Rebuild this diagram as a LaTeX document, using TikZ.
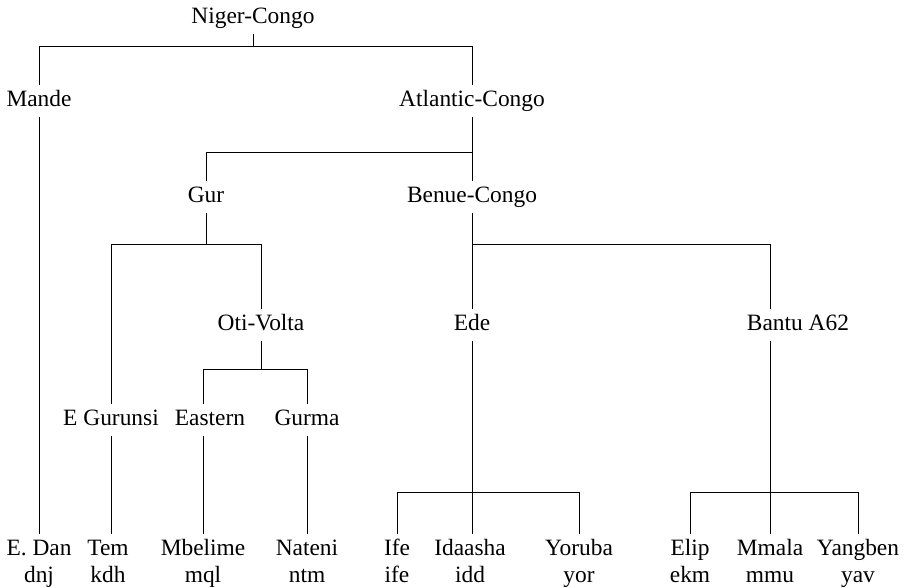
\documentclass[tikz,border=0pt]{standalone}
\usepackage{fontspec}
\setmainfont{Liberation Serif}
\usetikzlibrary{positioning}

\begin{document}
\begin{tikzpicture}[
    x=0.5pt, y=-0.5pt,
    font=\fontsize{11.7}{14}\selectfont,
    line width=0.5pt,
    lang/.style={anchor=base, inner xsep=1pt, inner ysep=2.5pt, text height=8pt, text depth=2.5pt},
    code/.style={inner sep=0pt, text height=8pt, text depth=2.5pt},
    leaf/.style={lang, label={[code]below:#1}}
]
\useasboundingbox (0,0) rectangle (909,588);

% inner nodes
\node[lang] (nc) at (253,24) {Niger-Congo};
\node[lang] (mande) at (39,107) {Mande};
\node[lang] (atl) at (472,107) {Atlantic-Congo};
\node[lang] (gur) at (206,203) {Gur};
\node[lang] (benue) at (472,203) {Benue-Congo};
\node[lang] (oti) at (261,330) {Oti-Volta};
\node[lang] (ede) at (472,330) {Ede};
\node[lang] (bantu) at (798,330) {Bantu A62};
\node[lang] (egur) at (111,425) {E Gurunsi};
\node[lang] (eastern) at (210,425) {Eastern};
\node[lang] (gurma) at (307,425) {Gurma};

% leaves with their codes
\node[leaf=dnj] (edan) at (39,555) {E. Dan};
\node[leaf=kdh] (tem) at (108,555) {Tem};
\node[leaf=mql] (mbelime) at (203,555) {Mbelime};
\node[leaf=ntm] (nateni) at (307,555) {Nateni};
\node[leaf=ife] (ife) at (397,555) {Ife};
\node[leaf=idd] (idaasha) at (470,555) {Idaasha};
\node[leaf=yor] (yoruba) at (579,555) {Yoruba};
\node[leaf=ekm] (elip) at (690,555) {Elip};
\node[leaf=mmu] (mmala) at (770,555) {Mmala};
\node[leaf=yav] (yangben) at (858,555) {Yangben};

% forks
\draw (nc.south) -- ++(0,12) -| (mande.north);
\draw (nc.south) -- ++(0,12) -| (atl.north);
\draw (atl.south) -- ++(0,35) -| (gur.north);
\draw (gur.south) -- ++(0,31) -| (egur.north);
\draw (gur.south) -- ++(0,31) -| (oti.north);
\draw (benue.south) -- ++(0,31) -| (mmala.north |- bantu.north);
\draw (oti.south) -- ++(0,29) -| (mbelime.north |- eastern.north);
\draw (oti.south) -- ++(0,29) -| (gurma.north);
\draw (ife.north) -- ++(0,-41) -| (yoruba.north);
\draw (elip.north) -- ++(0,-41) -| (yangben.north);

% stems
\foreach \a/\b in {atl/benue, benue/ede, mande/edan, egur/tem, gurma/nateni, ede/idaasha}
  \draw (\a.south) -- (\a.south |- \b.north);
\draw (mbelime.north |- eastern.south) -- (mbelime.north);
\draw (mmala.north |- bantu.south) -- (mmala.north);
\end{tikzpicture}
\end{document}
